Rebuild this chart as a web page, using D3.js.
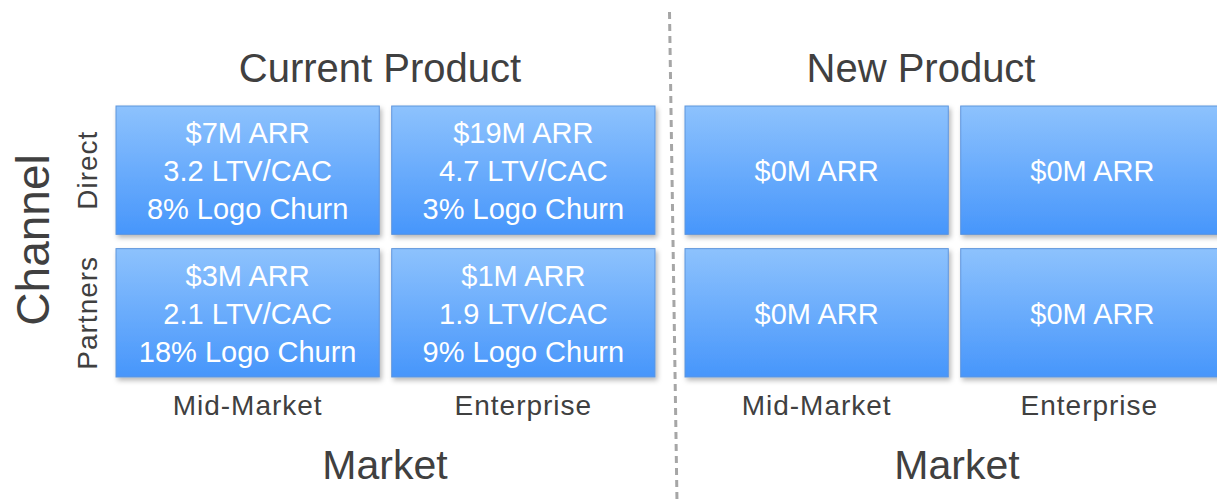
<!DOCTYPE html>
<html><head><meta charset="utf-8">
<script src="https://cdn.jsdelivr.net/npm/d3@7"></script>
<style>html,body{margin:0;padding:0;background:#fff;}svg{display:block;}</style>
</head><body>
<svg id="chart" width="1217" height="502"></svg>
<script>
const products = ["Current Product", "New Product"];
const markets = ["Mid-Market", "Enterprise"];
const channels = ["Direct", "Partners"];
// values per [product][channel][market]
const arrValues = [[[7, 19], [3, 1]], [[0, 0], [0, 0]]];
const ltvCac = [[[3.2, 4.7], [2.1, 1.9]], [[null, null], [null, null]]];
const logoChurn = [[[8, 3], [18, 9]], [[null, null], [null, null]]];
const axisTitleX = "Market";
const axisTitleY = "Channel";

const svg = d3.select("#chart");
const FONT = "'Liberation Sans', Arial, sans-serif";
const textCol = "#404040";

const defs = svg.append("defs");
const grad = defs.append("linearGradient").attr("id", "boxGrad").attr("x1", 0).attr("y1", 0).attr("x2", 0).attr("y2", 1);
grad.append("stop").attr("offset", "0%").attr("stop-color", "#8dc2fd");
grad.append("stop").attr("offset", "100%").attr("stop-color", "#4796fb");
const filt = defs.append("filter").attr("id", "shadow").attr("x", "-10%").attr("y", "-10%").attr("width", "130%").attr("height", "130%");
filt.append("feDropShadow").attr("dx", 2).attr("dy", 3).attr("stdDeviation", 2.5).attr("flood-color", "#000").attr("flood-opacity", 0.28);

// scales
const productX = d3.scaleOrdinal().domain(products).range([[116, 655], [685, 1224]]);
const yScale = d3.scaleBand().domain(channels).range([106, 377]).paddingInner(0.1);

// divider
svg.append("line").attr("x1", 669.5).attr("y1", 12).attr("x2", 677).attr("y2", 502)
  .attr("stroke", "#a6a6a6").attr("stroke-width", 3).attr("stroke-dasharray", "7,5");

products.forEach((p, pi) => {
  const xScale = d3.scaleBand().domain(markets).range(productX(p)).paddingInner(0.045);
  const g = svg.append("g");
  // product title
  g.append("text").attr("x", pi === 0 ? 380 : 921).attr("y", 82).attr("text-anchor", "middle")
    .attr("font-family", FONT).attr("font-size", 40).attr("fill", textCol).text(p);
  channels.forEach((c, ci) => {
    markets.forEach((m, mi) => {
      const x = xScale(m), y = yScale(c), w = xScale.bandwidth(), h = yScale.bandwidth();
      g.append("rect").attr("x", x).attr("y", y).attr("width", w).attr("height", h)
        .attr("fill", "url(#boxGrad)").attr("stroke", "#5f95dc").attr("stroke-width", 1)
        .attr("filter", "url(#shadow)");
      const lines = [`$${arrValues[pi][ci][mi]}M ARR`];
      if (ltvCac[pi][ci][mi] != null) lines.push(`${d3.format(".1f")(ltvCac[pi][ci][mi])} LTV/CAC`);
      if (logoChurn[pi][ci][mi] != null) lines.push(`${logoChurn[pi][ci][mi]}% Logo Churn`);
      const lh = 38;
      const midY = y + h / 2 + 1;
      lines.forEach((t, li) => {
        g.append("text").attr("x", x + w / 2).attr("y", midY + (li - (lines.length - 1) / 2) * lh + 10)
          .attr("text-anchor", "middle").attr("font-family", FONT).attr("font-size", 29)
          .attr("fill", "#ffffff").text(t);
      });
    });
  });
  // market labels
  markets.forEach(m => {
    g.append("text").attr("x", xScale(m) + xScale.bandwidth() / 2 + (pi === 1 && m === "Enterprise" ? -3 : 0)).attr("y", 415)
      .attr("text-anchor", "middle").attr("font-family", FONT).attr("font-size", 28)
      .attr("letter-spacing", 1).attr("fill", textCol).text(m);
  });
  g.append("text").attr("x", pi === 0 ? 385 : 957).attr("y", 479).attr("text-anchor", "middle")
    .attr("font-family", FONT).attr("font-size", 41).attr("fill", textCol).text(axisTitleX);
});

// channel labels
channels.forEach(c => {
  const cy = yScale(c) + yScale.bandwidth() / 2;
  svg.append("text").attr("transform", `translate(97,${cy}) rotate(-90)`).attr("text-anchor", "middle")
    .attr("font-family", FONT).attr("font-size", 28).attr("letter-spacing", 1).attr("fill", textCol).text(c);
});
svg.append("text").attr("transform", `translate(49,240) rotate(-90)`).attr("text-anchor", "middle")
  .attr("font-family", FONT).attr("font-size", 46).attr("fill", textCol).text(axisTitleY);
</script>
</body></html>
